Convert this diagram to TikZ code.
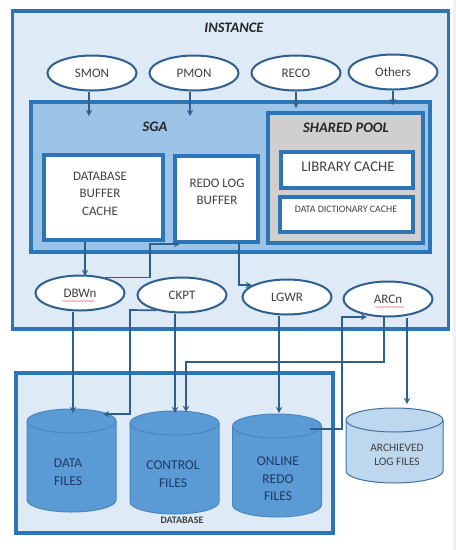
\documentclass[tikz,border=0pt]{standalone}
\usepackage{fontspec}
\setmainfont{Carlito}
\usetikzlibrary{shapes.geometric,decorations.pathmorphing}

\definecolor{linecol}{HTML}{2E75B6}
\definecolor{darkline}{HTML}{2F5F8F}
\definecolor{palefill}{HTML}{DEEAF6}
\definecolor{midfill}{HTML}{9DC3E6}
\definecolor{greyfill}{HTML}{D0CECE}
\definecolor{cylfill}{HTML}{5B9BD5}
\definecolor{cylsoft}{HTML}{4A86BE}
\definecolor{cylpale}{HTML}{BDD7EE}
\definecolor{cylline}{HTML}{41719C}
\definecolor{textcol}{HTML}{404040}
\definecolor{cyltext}{HTML}{1F3864}
\definecolor{edgecol}{HTML}{F0F0F0}

\tikzset{
    frame/.style={draw=linecol,line width=3.5pt,inner sep=0pt,minimum width=#1},
    proc/.style={ellipse,draw=darkline,line width=2pt,fill=white,minimum width=89pt,minimum height=35pt,inner sep=0pt,font=\fontsize{13}{15}\selectfont,text=textcol},
    lbl/.style={align=center,text=textcol,inner sep=0pt,font=\fontsize{13}{17.5}\selectfont},
    cyllbl/.style={align=center,text=cyltext,inner sep=0pt,font=\fontsize{13.5}{17.5}\selectfont},
    head/.style={inner sep=0pt,text=black!85,font=\fontsize{14.5}{16}\selectfont\bfseries\itshape},
    conn/.style={->,>=stealth,draw=darkline,line width=1.7pt},
    squiggle/.style={red!70,line width=0.4pt,decorate,decoration={snake,amplitude=0.5pt,segment length=3pt}}
}

% centre x, top y, x radius, y radius, total height, fill, line
\newcommand{\filedrum}[7]{
    \draw[draw=#7,line width=1pt,fill=#6] ({#1-#3},{#2+#4}) arc[start angle=180,end angle=360,x radius=#3,y radius=#4]
        -- ++(0,{#5-2*#4}) arc[start angle=0,end angle=180,x radius=#3,y radius=#4] -- cycle;
    \draw[draw=#7,line width=1pt] ({#1-#3},{#2+#4}) arc[start angle=180,end angle=0,x radius=#3,y radius=#4];
}

\begin{document}
\begin{tikzpicture}[x=1pt,y=-1pt]
    \useasboundingbox (0,0) rectangle (456,550);
    \fill[edgecol] (452.5,0) rectangle (456,550);

    % Instance
    \node[frame=436pt,fill=palefill,minimum height=318pt] (instance) at (230.5,170) {};
    \node[head] (instancelbl) at (234,28) {INSTANCE};

    % SGA
    \node[frame=399pt,fill=midfill,minimum height=150pt] (sga) at (230.5,177) {};
    \node[head] (sgalbl) at (155,127) {SGA};

    % Shared pool
    \node[frame=155pt,fill=greyfill,minimum height=130pt] (pool) at (345.5,178) {};
    \node[head] (poollbl) at (346,128) {SHARED POOL};
    \node[frame=132pt,fill=white,minimum height=36pt] (library) at (347,170) {};
    \node[lbl,font=\fontsize{14.7}{16}\selectfont] (librarylbl) at (348,166.5) {LIBRARY CACHE};
    \node[frame=133pt,fill=white,minimum height=35pt] (dict) at (346.5,214.5) {};
    \node[lbl,font=\fontsize{9.9}{11}\selectfont] (dictlbl) at (346,209) {DATA DICTIONARY CACHE};

    % Buffers
    \node[frame=119pt,fill=white,minimum height=85pt] (dbbuffer) at (103.5,197.5) {};
    \node[lbl] (dbbufferlbl) at (100,193.5) {DATABASE\\BUFFER\\CACHE};
    \node[frame=83pt,fill=white,minimum height=86pt] (redo) at (216.5,199) {};
    \node[lbl] (redolbl) at (217,192) {REDO LOG\\BUFFER};

    % Background processes
    \node[proc] (smon) at (92,73) {SMON};
    \node[proc] (pmon) at (194,73) {PMON};
    \node[proc] (reco) at (296,73) {RECO};
    \node[proc] (others) at (393,72) {Others};
    \node[proc] (dbwn) at (80,293) {DBWn};
    \node[proc] (ckpt) at (182,295) {CKPT};
    \node[proc] (lgwr) at (287,297) {LGWR};
    \node[proc] (arcn) at (388,299) {ARCn};
    \draw[squiggle] (62,301) -- (95,301);
    \draw[squiggle] (375,307) -- (404,307);

    % Database
    \node[frame=317pt,fill=palefill,minimum height=160pt] (database) at (174.5,453) {};
    \node[inner sep=0pt,text=textcol,font=\fontsize{10}{12}\selectfont\bfseries] (databaselbl) at (182,520) {DATABASE};

    % Files
    \filedrum{71.5}{409}{44.5}{12}{103}{cylfill}{cylsoft}
    \filedrum{174.5}{411}{44.5}{12}{103}{cylfill}{cylsoft}
    \filedrum{277}{414}{44.5}{12}{103}{cylfill}{cylsoft}
    \filedrum{394.5}{408}{48.5}{12}{75}{cylpale}{cylline}
    \node[cyllbl] (datalbl) at (68,472) {DATA\\FILES};
    \node[cyllbl] (controllbl) at (173,474) {CONTROL\\FILES};
    \node[cyllbl] (onlinelbl) at (278,479) {ONLINE\\REDO\\FILES};
    \node[lbl,font=\fontsize{11.4}{14}\selectfont] (archivedlbl) at (397,455) {ARCHIEVED\\LOG FILES};

    % Free ends
    \coordinate (sgaleft) at (89,116);
    \coordinate (sgamid) at (190,116);
    \coordinate (poolin) at (296,108);
    \coordinate (poolright) at (393,105);
    \coordinate (dbwnin) at (85,276);
    \coordinate (writebend) at (150,244);
    \coordinate (redoin) at (180,244);
    \coordinate (redoout) at (239,242);
    \coordinate (lgwrin) at (252,285);
    \coordinate (datain) at (73,413);
    \coordinate (dataside) at (103,414);
    \coordinate (ckptbend) at (130,310);
    \coordinate (controlin) at (175,413);
    \coordinate (controlside) at (186,412);
    \coordinate (arcnbend) at (377,362);
    \coordinate (onlinein) at (279,413);
    \coordinate (onlineout) at (310,429);
    \coordinate (onlinebend) at (342,317);
    \coordinate (arcnin) at (367,317);
    \coordinate (archivedin) at (407,404);

    % Connectors
    \draw[conn] (smon.south -| sgaleft) -- (sgaleft);
    \draw[conn] (pmon.south -| sgamid) -- (sgamid);
    \draw[conn] (reco.south) -- (poolin);
    \draw[conn] (others.south) -- (poolright);
    \draw[conn] (dbbuffer.south -| dbwnin) -- (dbwnin);
    \draw[conn] (dbwn.32) -| (writebend) -- (redoin);
    \draw[conn] (redoout) |- (lgwrin);
    \draw[conn] (dbwn.south -| datain) -- (datain);
    \draw[conn] (ckpt.211) -- (ckptbend) |- (dataside);
    \draw[conn] (ckpt.south -| controlin) -- (controlin);
    \draw[conn] (arcn.-103) |- (arcnbend) -| (controlside);
    \draw[conn] (lgwr.south -| onlinein) -- (onlinein);
    \draw[conn] (onlineout) -| (onlinebend) -- (arcnin);
    \draw[conn] (arcn.south -| archivedin) -- (archivedin);
\end{tikzpicture}
\end{document}
